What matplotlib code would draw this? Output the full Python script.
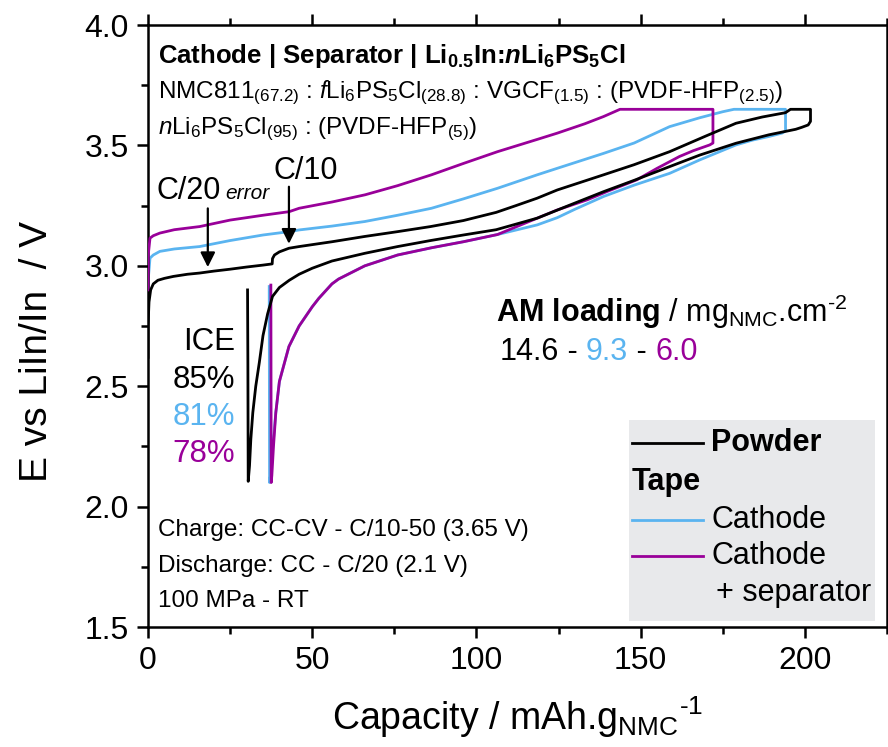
import numpy as np
import matplotlib
matplotlib.use('Agg')
import matplotlib.pyplot as plt
from matplotlib.patches import Rectangle

plt.rcParams['font.family'] = ['Liberation Sans', 'DejaVu Sans']
plt.rcParams['mathtext.fontset'] = 'custom'
plt.rcParams['mathtext.rm'] = 'Liberation Sans'
plt.rcParams['mathtext.it'] = 'Liberation Sans:italic'
plt.rcParams['mathtext.bf'] = 'Liberation Sans:bold'
plt.rcParams['mathtext.bfit'] = 'Liberation Sans:bold:italic'

BLACK = '#000000'
BLUE = '#5ab4f0'
PURPLE = '#990099'

# Powder (14.6 mg/cm2)
powder_cap = [0, 0, 0.3, 0.8, 1.6, 3, 5, 7.7, 12, 15.7, 20, 25, 30, 35, 37.8, 37.9, 38.5, 40, 42.9, 46,
              56, 66, 76, 86, 96, 106, 112, 118.5, 124.6, 138.7, 148, 158.8, 170, 179, 187, 194.1, 195.6,
              201.7,
              201.7, 201, 199, 197.2, 189, 179, 168, 158.8, 148, 138.7, 128, 118.5, 106, 96, 86, 76, 66,
              56, 50, 46, 43, 40, 37.9, 36.4, 35, 33.9, 32.8, 31.9, 31.3, 30.9, 30.5, 30.4, 30.3]
powder_v = [2.62, 2.75, 2.85, 2.9, 2.925, 2.94, 2.948, 2.956, 2.965, 2.97, 2.978, 2.986, 2.995, 3.003, 3.008,
            3.03, 3.045, 3.058, 3.073, 3.08, 3.10, 3.122, 3.142, 3.163, 3.188, 3.222, 3.25, 3.281, 3.315,
            3.378, 3.42, 3.474, 3.54, 3.592, 3.618, 3.636, 3.65, 3.65,
            3.60, 3.585, 3.575, 3.567, 3.544, 3.509, 3.46, 3.412, 3.355, 3.308, 3.25, 3.198, 3.15, 3.128,
            3.105, 3.08, 3.052, 3.02, 2.99, 2.965, 2.94, 2.91, 2.873, 2.80, 2.71, 2.60, 2.50, 2.39, 2.28,
            2.17, 2.105, 2.6, 2.9]

# Tape - cathode (9.3 mg/cm2)
cathode_cap = [0, 0.1, 0.6, 1.6, 3.6, 8, 15.7, 25, 35, 43, 46, 56, 66, 76, 86.3, 96, 106.4, 118.5, 124.6,
               138.7, 148, 158.8, 168, 175, 178.4, 194.1,
               194.1, 193, 189, 184, 179, 168, 158.8, 148, 138.7, 130, 124.6, 118.5, 106.4, 96, 86.3, 76,
               66, 58, 56, 52, 50, 48, 46, 42.9, 40, 38.9, 38, 37.3, 37.0, 36.9]
cathode_v = [2.78, 2.95, 3.032, 3.045, 3.06, 3.07, 3.08, 3.105, 3.128, 3.142, 3.149, 3.165, 3.184, 3.21,
             3.239, 3.278, 3.322, 3.378, 3.405, 3.467, 3.51, 3.578, 3.615, 3.64, 3.65, 3.65,
             3.56, 3.551, 3.537, 3.522, 3.502, 3.44, 3.384, 3.335, 3.288, 3.235, 3.2, 3.17, 3.13,
             3.1, 3.075, 3.045, 3.0, 2.945, 2.925, 2.865, 2.83, 2.79, 2.75, 2.665, 2.52, 2.39, 2.25,
             2.13, 2.1, 2.914]

# Tape - cathode + separator (6.0 mg/cm2)
sep_cap = [0, 0.1, 0.6, 1.6, 3.6, 8, 15.7, 25, 35, 43, 46, 56, 66.1, 76, 86.3, 96, 106.4, 118.5, 124.6,
           133, 138.7, 143.7, 172,
           172, 171, 166, 161.8, 155, 148.8, 140, 133.7, 124.6, 118.5, 106.4, 96, 86.3, 76, 66, 58, 56,
           52, 50, 48, 46, 42.9, 40, 38.9, 38.2, 37.7, 37.5, 37.4]
sep_v = [2.9, 3.05, 3.115, 3.125, 3.136, 3.15, 3.163, 3.19, 3.21, 3.225, 3.239, 3.265, 3.295, 3.333, 3.378,
         3.425, 3.474, 3.525, 3.551, 3.59, 3.62, 3.65, 3.65,
         3.51, 3.502, 3.478, 3.454, 3.405, 3.357, 3.31, 3.274, 3.232, 3.198, 3.13, 3.1, 3.075, 3.045,
         3.0, 2.945, 2.925, 2.865, 2.83, 2.79, 2.75, 2.665, 2.52, 2.39, 2.25, 2.13, 2.1, 2.92]

ice_values = ['85%', '81%', '78%']
loadings = ['14.6', '9.3', '6.0']
colors = [BLACK, BLUE, PURPLE]

fig = plt.figure(figsize=(8.88, 7.47), dpi=100)
ax = fig.add_axes([0.1667, 0.1606, 0.8322, 0.8059])

ax.plot(sep_cap, sep_v, color=PURPLE, lw=2, zorder=3)
ax.plot(cathode_cap, cathode_v, color=BLUE, lw=2, zorder=2)
ax.plot(powder_cap, powder_v, color=BLACK, lw=2, zorder=4)

ax.set_xlim(0, 223.5)
ax.set_ylim(1.5, 4.0)
ax.set_xticks([0, 50, 100, 150, 200])
ax.set_xticks([25, 75, 125, 175, 225], minor=True)
ax.set_yticks([1.5, 2.0, 2.5, 3.0, 3.5, 4.0])
ax.set_yticks([1.75, 2.25, 2.75, 3.25, 3.75], minor=True)
ax.tick_params(which='both', direction='out', width=1.8, top=True, right=False, labelsize=23)
ax.tick_params(which='major', length=8, pad=6)
ax.tick_params(which='minor', length=5)
for s in ax.spines.values():
    s.set_linewidth(1.8)

ax.set_xlabel(r'Capacity / mAh.g$_{\mathregular{NMC}}$$^{\text{-1}}$', fontsize=27, labelpad=13)
ax.set_ylabel('E vs LiIn/In  / V', fontsize=28)
ax.yaxis.set_label_coords(-0.126, 0.457)

# header text
ax.text(3, 3.87, r'Cathode | Separator | Li$_{\mathbf{0.5}}$In:$\mathbfit{n}$Li$_{\mathbf{6}}$PS$_{\mathbf{5}}$Cl',
        fontsize=18.5, fontweight='bold', va='center')
ax.text(3, 3.72, r'NMC811$_{(67.2)}$ : $\mathit{f}$Li$_6$PS$_5$Cl$_{(28.8)}$ : VGCF$_{(1.5)}$ : (PVDF-HFP$_{(2.5)}$)',
        fontsize=17.5, va='center')
ax.text(3, 3.565, r'$\mathit{n}$Li$_6$PS$_5$Cl$_{(95)}$ : (PVDF-HFP$_{(5)}$)', fontsize=17.5, va='center')

# rate arrows
ax.annotate('', xy=(18.2, 2.983), xytext=(18.2, 3.25),
            arrowprops=dict(arrowstyle='-|>', color='k', lw=1.6, mutation_scale=22))
ax.annotate('', xy=(42.9, 3.08), xytext=(42.9, 3.34),
            arrowprops=dict(arrowstyle='-|>', color='k', lw=1.6, mutation_scale=22))
ax.text(12.5, 3.31, 'C/20', fontsize=22, ha='center', va='center')
ax.text(23.6, 3.30, 'error', fontsize=15, style='italic', ha='left', va='center')
ax.text(48, 3.395, 'C/10', fontsize=22, ha='center', va='center')

# ICE
ax.text(26.5, 2.685, 'ICE', fontsize=22.5, ha='right', va='center')
for i, (val, c) in enumerate(zip(ice_values, colors)):
    ax.text(26.5, 2.527 - i * 0.155, val, fontsize=22.5, ha='right', va='center', color=c)

# loading
ax.text(106, 2.81, r'$\mathbf{AM\ loading}$ / mg$_{\mathregular{NMC}}$.cm$^{\text{-2}}$',
        fontsize=22, va='center')
prev = ax.text(107, 2.643, loadings[0], fontsize=22, va='center', color=colors[0])
for val, c in zip(loadings[1:], colors[1:]):
    prev = ax.annotate(' - ', xy=(1, 0), xycoords=prev, fontsize=22, va='bottom', color='k')
    prev = ax.annotate(val, xy=(1, 0), xycoords=prev, fontsize=22, va='bottom', color=c)

# conditions
ax.text(3, 1.905, 'Charge: CC-CV - C/10-50 (3.65 V)', fontsize=17.5, va='center')
ax.text(3, 1.755, 'Discharge: CC - C/20 (2.1 V)', fontsize=17.5, va='center')
ax.text(3, 1.61, '100 MPa - RT', fontsize=17.5, va='center')

# legend box
ax.add_patch(Rectangle((146.4, 1.525), 74.9, 0.836, facecolor='#e8e9eb', edgecolor='none', zorder=5))
ax.plot([147.3, 169.1], [2.266, 2.266], color=BLACK, lw=2, zorder=6)
ax.text(171.5, 2.266, 'Powder', fontsize=22, fontweight='bold', va='center', zorder=6)
ax.text(147.3, 2.104, 'Tape', fontsize=22, fontweight='bold', va='center', zorder=6)
ax.plot([147.3, 169.1], [1.946, 1.946], color=BLUE, lw=2, zorder=6)
ax.text(171.5, 1.946, 'Cathode', fontsize=22, va='center', zorder=6)
ax.plot([147.3, 169.1], [1.793, 1.793], color=PURPLE, lw=2, zorder=6)
ax.text(171.5, 1.793, 'Cathode', fontsize=22, va='center', zorder=6)
ax.text(173, 1.643, '+ separator', fontsize=22, va='center', zorder=6)

fig.savefig('out.png', dpi=100)
